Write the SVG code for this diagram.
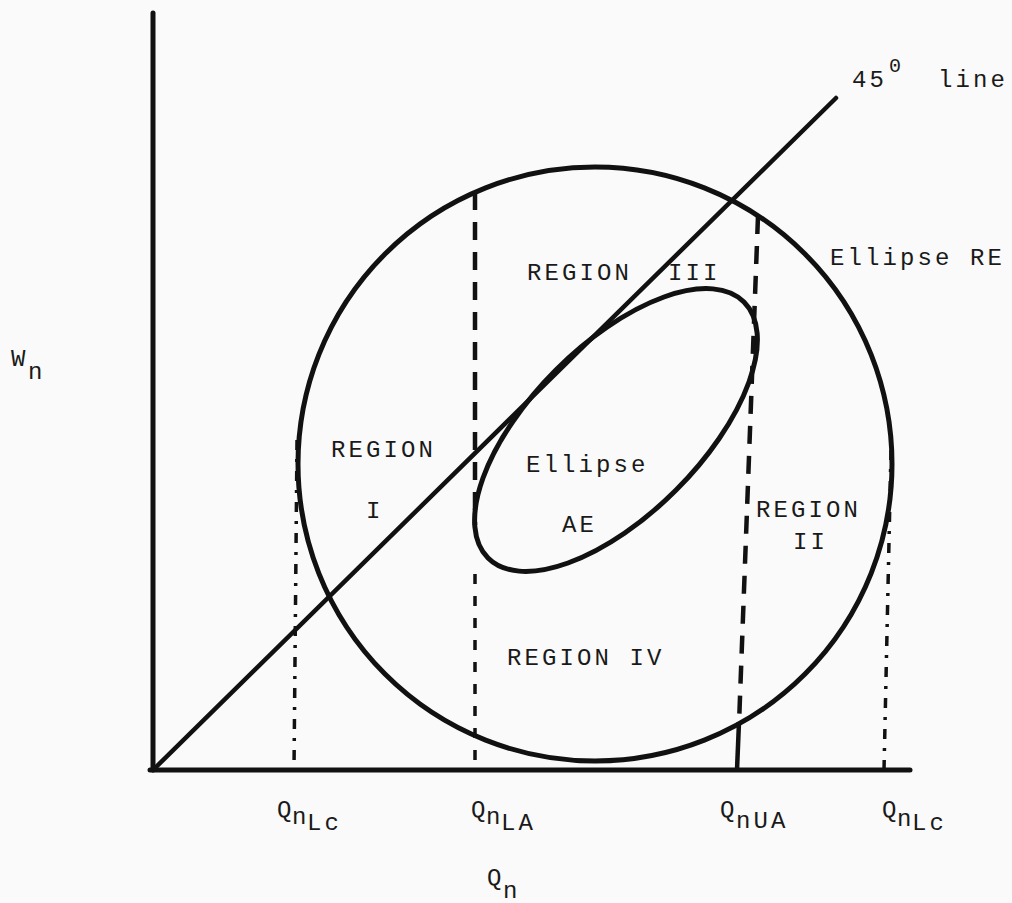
<svg xmlns="http://www.w3.org/2000/svg" width="1012" height="903" viewBox="0 0 1012 903">
<style>
.t{font-family:"Liberation Mono","DejaVu Sans Mono",monospace;font-size:24px;letter-spacing:3.1px;fill:#1a1a1a}
.s{letter-spacing:0}
.ax{stroke:#111;stroke-width:5;stroke-linecap:round;fill:none}
.cv{stroke:#111;stroke-width:5;fill:none}
.dash{stroke:#111;stroke-width:4.5;fill:none;stroke-dasharray:18 12}
.dashl{stroke:#111;stroke-width:3.5;fill:none;stroke-dasharray:10 12}
.dd{stroke:#111;stroke-width:3.5;fill:none;stroke-dasharray:10 9 3 9}
</style>
<rect width="1012" height="903" fill="#fafafa"/>
<g id="axes">
<line class="ax" x1="153" y1="13" x2="153" y2="770"/>
<line class="ax" x1="150" y1="770" x2="910" y2="770"/>
</g>
<g id="line45">
<line x1="153" y1="770" x2="836" y2="98" stroke="#111" stroke-width="4.5" stroke-linecap="round"/>
</g>
<g id="ellipse-RE">
<circle class="cv" cx="595" cy="464" r="297"/>
</g>
<g id="ellipse-AE">
<ellipse class="cv" cx="616" cy="430" rx="181" ry="85" transform="rotate(-45 616 430)"/>
</g>
<g id="connectors">
<line class="dash" x1="475" y1="192" x2="475" y2="525"/>
<line class="dashl" x1="475" y1="574" x2="475" y2="770"/>
<line class="dash" x1="758" y1="216" x2="739" y2="724"/>
<line x1="739" y1="722" x2="737" y2="770" stroke="#111" stroke-width="4.5"/>
<line class="dd" x1="297" y1="440" x2="294" y2="770"/>
<line class="dd" x1="891" y1="450" x2="884" y2="770"/>
</g>
<g id="labels">
<text class="t" x="852" y="87">45</text>
<text class="t s" x="889" y="72" style="font-size:20px">0</text>
<text class="t" x="938" y="87">line</text>
<text class="t" x="830" y="265">Ellipse RE</text>
<text class="t" x="527" y="280">REGION<tspan x="668">III</tspan></text>
<text class="t" x="331" y="457">REGION</text>
<text class="t" x="366" y="518">I</text>
<text class="t" x="526" y="472">Ellipse</text>
<text class="t" x="562" y="532">AE</text>
<text class="t" x="756" y="517">REGION</text>
<text class="t" x="793" y="549">II</text>
<text class="t" x="507" y="665">REGION IV</text>
<text class="t s" x="11" y="366">W</text>
<text class="t s" x="28" y="379">n</text>
<text class="t s" x="277" y="817">Q</text>
<text class="t s" x="292" y="824">n</text>
<text class="t" x="307" y="830">Lc</text>
<text class="t s" x="471" y="817">Q</text>
<text class="t s" x="486" y="824">n</text>
<text class="t" x="501" y="830">LA</text>
<text class="t s" x="720" y="817">Q</text>
<text class="t" x="736" y="828">nUA</text>
<text class="t s" x="882" y="817">Q</text>
<text class="t s" x="897" y="826">n</text>
<text class="t" x="912" y="830">Lc</text>
<text class="t s" x="487" y="885">Q</text>
<text class="t s" x="503" y="898">n</text>
</g>
</svg>
